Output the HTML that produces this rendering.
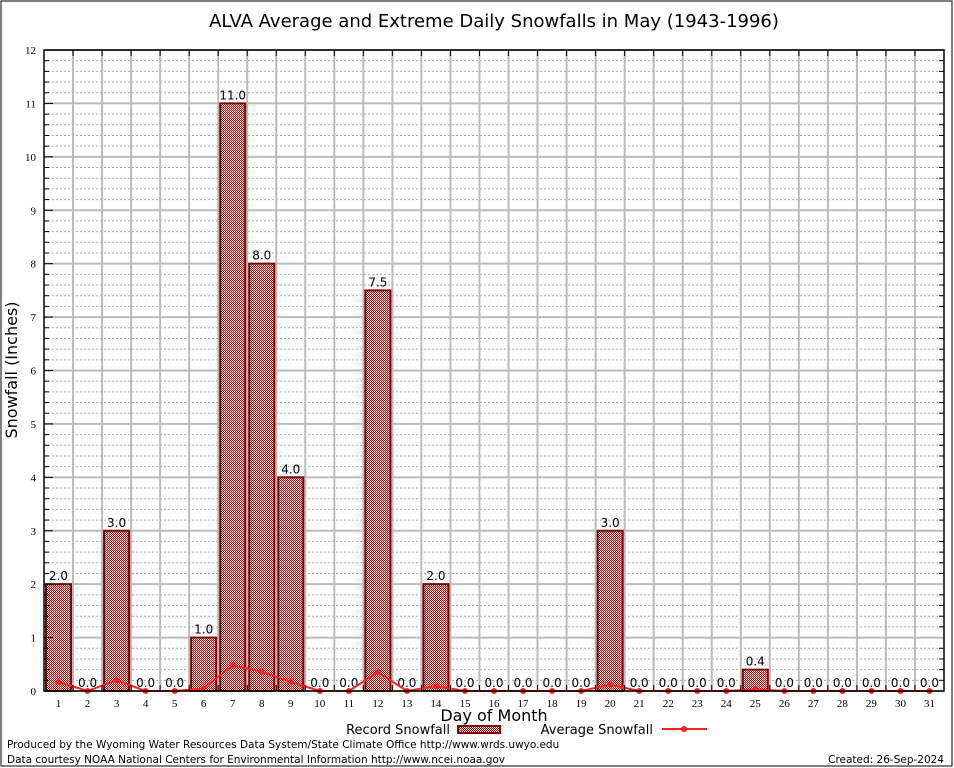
<!DOCTYPE html>
<html><head><meta charset="utf-8"><style>
body{margin:0;background:#fff;width:954px;height:768px;overflow:hidden}
svg{display:block;font-family:"DejaVu Sans","Liberation Sans",sans-serif}
</style></head><body>
<svg id="chart" width="954" height="768" viewBox="0 0 954 768">
<defs>
<pattern id="chk" width="2" height="2" patternUnits="userSpaceOnUse">
<rect width="2" height="2" fill="#fff"/><rect width="1" height="1" fill="#c00000"/><rect x="1" y="1" width="1" height="1" fill="#c00000"/>
</pattern>
</defs>
<rect x="1" y="1" width="951" height="765" fill="#fff" stroke="#000" stroke-width="1"/>
<text x="494" y="27" font-size="18" text-anchor="middle">ALVA Average and Extreme Daily Snowfalls in May (1943-1996)</text>
<g id="grid"></g>
<g id="bars"></g>
<g id="line"></g>
<g id="axes"></g>
<text x="17" y="370" font-size="16" text-anchor="middle" transform="rotate(-90 17 370)">Snowfall (Inches)</text>
<text x="494" y="721" font-size="16" text-anchor="middle">Day of Month</text>
<g>
<text x="450" y="734" font-size="13" text-anchor="end">Record Snowfall</text>
<rect x="458" y="726" width="42" height="7" fill="url(#chk)" stroke="#8b0000" stroke-width="2"/>
<text x="653" y="734" font-size="13" text-anchor="end">Average Snowfall</text>
<line x1="662" y1="729" x2="707" y2="729" stroke="#ff2020" stroke-width="2"/>
<circle cx="684" cy="729" r="3" fill="#ff2020"/>
</g>
<text x="7" y="748" font-size="10.5">Produced by the Wyoming Water Resources Data System/State Climate Office http://www.wrds.uwyo.edu</text>
<text x="7" y="763" font-size="10.5">Data courtesy NOAA National Centers for Environmental Information http://www.ncei.noaa.gov</text>
<text x="944" y="763" font-size="10.5" text-anchor="end">Created: 26-Sep-2024</text>
</svg>
<script>
const days=[1,2,3,4,5,6,7,8,9,10,11,12,13,14,15,16,17,18,19,20,21,22,23,24,25,26,27,28,29,30,31];
const recordSnow=[2.0,0,3.0,0,0,1.0,11.0,8.0,4.0,0,0,7.5,0,2.0,0,0,0,0,0,3.0,0,0,0,0,0.4,0,0,0,0,0,0];
const avgSnow=[0.17,0,0.2,0,0,0.05,0.48,0.36,0.17,0,0,0.35,0,0.09,0,0,0,0,0,0.12,0,0,0,0,0.03,0,0,0,0,0,0];
const yTicks=[0,1,2,3,4,5,6,7,8,9,10,11,12];
const L=44,R=944,T=50,B=691,YMAX=12,N=31;
const NS="http://www.w3.org/2000/svg";
const bw=(R-L)/N;
function x(d){return L+(d-0.5)*bw;}
function y(v){return B-(v/YMAX)*(B-T);}
function mk(tag,attrs,parent){const e=document.createElementNS(NS,tag);for(const k in attrs)e.setAttribute(k,attrs[k]);parent.appendChild(e);return e;}
const grid=document.getElementById('grid'),bars=document.getElementById('bars'),line=document.getElementById('line'),axes=document.getElementById('axes');
for(let v=0.2;v<YMAX;v+=0.2){if(Math.abs(v-Math.round(v))<0.01)continue;
 const g=mk('line',{x1:L,x2:R,y1:y(v),y2:y(v),stroke:'#aaa','stroke-width':1,'stroke-dasharray':'2,2'},grid);
 
 
 const t=mk('line',{x1:L,x2:L+5,y1:y(v),y2:y(v),stroke:'#000'},axes);
 
 
 const t2=mk('line',{x1:R-5,x2:R,y1:y(v),y2:y(v),stroke:'#000'},axes);
 
 }
yTicks.forEach(v=>{
 const g=mk('line',{x1:L,x2:R,y1:y(v),y2:y(v),stroke:'#bbb','stroke-width':2},grid);
 
 
 const t=mk('text',{x:L-8,y:y(v)+4,'font-size':11,'text-anchor':'end','font-family':'Liberation Serif,serif'},axes);
 t.textContent=v;
 
 
 const tk=mk('line',{x1:L,x2:L+9,y1:y(v),y2:y(v),stroke:'#000'},axes);
 
 
});
for(let k=1;k<N;k++){const xx=L+k*bw;
 const g=mk('line',{x1:xx,x2:xx,y1:T,y2:B,stroke:'#bbb','stroke-width':2},grid);
 
 
 const t=mk('line',{x1:xx,x2:xx,y1:B,y2:B-6,stroke:'#000'},axes);
 
 
 const t2=mk('line',{x1:xx,x2:xx,y1:T,y2:T+6,stroke:'#000'},axes);
 
 }
days.forEach((d,i)=>{
 const v=recordSnow[i];
 if(v>0){const r=mk('rect',{x:x(d)-12.5,y:y(v),width:25,height:B-y(v),fill:'url(#chk)',stroke:'#800000','stroke-width':2},bars);
  
  }
 const lb=mk('text',{x:x(d),y:y(v)-4,'font-size':12,'text-anchor':'middle'},bars);
 lb.textContent=v.toFixed(1);
 
 
 const xl=mk('text',{x:x(d),y:B+16,'font-size':11,'text-anchor':'middle','font-family':'Liberation Serif,serif'},axes);
 xl.textContent=d;
 
 
});
const p=mk('polyline',{points:days.map((d,i)=>x(d)+','+y(avgSnow[i])).join(' '),fill:'none',stroke:'#ff2020','stroke-width':2},line);


days.forEach((d,i)=>{const c=mk('circle',{cx:x(d),cy:y(avgSnow[i]),r:3,fill:'#ff2020'},line);
 
 });
const f=mk('rect',{x:L,y:T,width:R-L,height:B-T,fill:'none',stroke:'#000','stroke-width':1.5},axes);


</script>
</body></html>
